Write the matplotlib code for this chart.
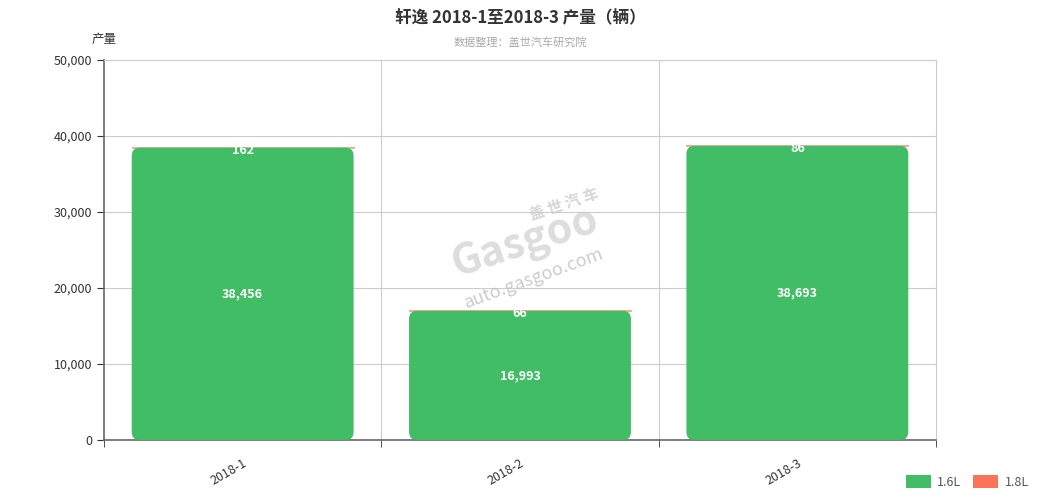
import matplotlib
matplotlib.use("Agg")
import matplotlib.pyplot as plt
from matplotlib.patches import FancyBboxPatch, Patch
import numpy as np

plt.rcParams["font.family"] = ["Noto Sans CJK SC", "DejaVu Sans"]

# ─── Data ─────────────────────────────────────────────────────────────────────
months   = ["2018-1", "2018-2", "2018-3"]
vol_16l  = [38456, 16993, 38693]
vol_18l  = [162, 66, 86]
series   = ["1.6L", "1.8L"]

GREEN = "#41be65"
RED   = "#fb7359"

fig = plt.figure(figsize=(10.4, 5), dpi=100)
ax = fig.add_axes([104 / 1040, 60 / 500, 832 / 1040, 380 / 500])

x = np.arange(len(months))
w = 0.8
ax.set_xlim(-0.5, len(months) - 0.5)
ax.set_ylim(0, 50000)

# aspect between data units per pixel (y vs x), for round corners
x_per_px = len(months) / 832
y_per_px = 50000 / 380
aspect = y_per_px / x_per_px
r = 8 * x_per_px

for i, (g, rd) in enumerate(zip(vol_16l, vol_18l)):
    # red 1.8L segment on top, thin
    ax.bar(x[i], rd, bottom=g, width=w, color="#f8a090", edgecolor="#f8a090",
           linewidth=0.6, zorder=2)
    box = FancyBboxPatch((x[i] - w / 2 + r, 0 + r * aspect), w - 2 * r, g - 2 * r * aspect,
                         boxstyle=f"round,pad={r},rounding_size={r}",
                         mutation_aspect=aspect, fc=GREEN, ec="none", zorder=3)
    ax.add_patch(box)
    ax.text(x[i], g / 2, f"{g:,}", ha="center", va="center", color="white",
            fontsize=9, fontweight="bold", zorder=5)
    ax.text(x[i], g - 300, f"{rd}", ha="center", va="center", color="white",
            fontsize=9, fontweight="bold", zorder=5)

# grid
ax.set_yticks(np.arange(0, 50001, 10000))
ax.yaxis.set_major_formatter(matplotlib.ticker.FuncFormatter(lambda v, p: f"{int(v):,}"))
ax.grid(axis="y", color="#cccccc", linewidth=0.8, zorder=0)
for b in [0.5, 1.5]:
    ax.axvline(b, color="#cccccc", linewidth=0.8, zorder=0)
ax.set_xticks(x)
ax.set_xticklabels(months, rotation=30, ha="right", rotation_mode="anchor", fontsize=9, color="#333333")
ax.set_xticks([-0.5, 0.5, 1.5, 2.5], minor=True)
ax.tick_params(axis="x", which="major", length=0, pad=12)
ax.tick_params(axis="x", which="minor", length=5, color="#333333")
ax.tick_params(axis="y", labelsize=9, labelcolor="#333333", length=5, color="#333333")

for s in ["top", "right"]:
    ax.spines[s].set_color("#cccccc")
    ax.spines[s].set_linewidth(0.8)
for s in ["left", "bottom"]:
    ax.spines[s].set_color("#666666")
    ax.spines[s].set_linewidth(1.2)

# watermark
ax.text(1.02, 26000, "Gasgoo", fontsize=30, color="#dddddd", ha="center", va="center",
        rotation=18, fontweight="bold", zorder=1)
ax.text(1.16, 31000, "盖 世 汽 车", fontsize=11, color="#d6d6d6", ha="center", va="center",
        rotation=18, fontweight="bold", zorder=1)
ax.text(1.05, 21300, "auto.gasgoo.com", fontsize=13, color="#c4c4c4", ha="center", va="center",
        rotation=20, zorder=6, alpha=0.85)

# titles
fig.text(0.5, 1 - 18 / 500, "轩逸 2018-1至2018-3 产量（辆）", ha="center", va="center",
         fontsize=12, fontweight="bold", color="#333333")
fig.text(0.5, 1 - 42 / 500, "数据整理：盖世汽车研究院", ha="center", va="center",
         fontsize=8, color="#aaaaaa")
fig.text(104 / 1040, 1 - 40 / 500, "产量", ha="center", va="center", fontsize=9, color="#333333")

handles = [Patch(facecolor=GREEN, edgecolor="none", label=series[0]),
           Patch(facecolor=RED, edgecolor="none", label=series[1])]
fig.legend(handles=handles, loc="lower right", bbox_to_anchor=(1.0, 0.0), ncol=2,
           frameon=False, fontsize=9, handlelength=2.0, handleheight=1.2,
           columnspacing=1.0, handletextpad=0.5, labelcolor="#555555")

fig.savefig("out.png", dpi=100)
